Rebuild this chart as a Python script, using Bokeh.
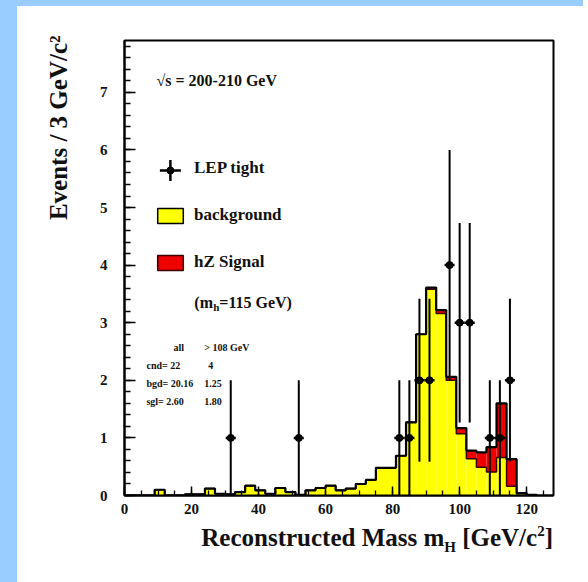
import math
from bokeh.plotting import figure
from bokeh.models import Range1d, SingleIntervalTicker, Label, Legend, LegendItem, Div, Title
from bokeh.layouts import row, column
from bokeh.embed import file_html
from bokeh.resources import INLINE

# ---------------- data ----------------
bin_edges = list(range(0, 126, 3))          # 3 GeV bins, 0 .. 123 GeV
background = [0.00, 0.00, 0.00, 0.10, 0.00, 0.00, 0.02, 0.02, 0.12, 0.03,
              0.02, 0.06, 0.17, 0.09, 0.03, 0.13, 0.06, 0.01, 0.09, 0.13,
              0.17, 0.09, 0.12, 0.20, 0.27, 0.48, 0.48, 0.69, 1.27, 2.80,
              3.58, 3.16, 2.00, 1.07, 0.64, 0.49, 0.41, 0.66, 0.16, 0.03,
              0.01]
signal = [0.00, 0.00, 0.00, 0.00, 0.00, 0.00, 0.00, 0.00, 0.00, 0.00,
          0.00, 0.00, 0.00, 0.00, 0.00, 0.00, 0.00, 0.00, 0.00, 0.00,
          0.00, 0.00, 0.00, 0.00, 0.00, 0.00, 0.00, 0.00, 0.00, 0.00,
          0.03, 0.06, 0.06, 0.10, 0.14, 0.26, 0.43, 0.94, 0.47, 0.01,
          0.00]
lep_mass = [31.7, 52.0, 82.0, 85.0, 88.0, 91.0, 97.0, 100.0, 103.0, 109.0, 112.0, 115.0]
lep_events = [1, 1, 1, 1, 2, 2, 4, 3, 3, 1, 1, 2]
lep_halfwidth = 1.5

table_rows = [("all", "> 108 GeV"), ("cnd= 22", "4"), ("bgd= 20.16", "1.25"), ("sgl=  2.60", "1.80")]

# ---------------- derived ----------------
bin_lo = bin_edges[:-1]
bin_hi = bin_edges[1:]
total = [b + s for b, s in zip(background, signal)]
err = [math.sqrt(n) for n in lep_events]

# ---------------- layout constants (page px) ----------------
X0, X1 = 0, 128
Y0, Y1 = 0, 7.9
FL, FR, FT, FB = 123, 553, 40, 495     # frame in page px
PAGE_L, PAGE_T = 17, 6                 # white panel origin
FIG_W, FIG_H = 566, 516


def dx(px):
    return X0 + (px - FL) / (FR - FL) * (X1 - X0)


def dy(py):
    return Y0 + (FB - py) / (FB - FT) * (Y1 - Y0)


FONT = "Liberation Serif"
INK = "#111111"
BLUE = "#99ccff"
NAN = float("nan")

p = figure(width=FIG_W, height=FIG_H, output_backend="svg", toolbar_location=None,
           x_range=Range1d(X0, X1), y_range=Range1d(Y0, Y1),
           min_border_left=FL - PAGE_L, min_border_right=PAGE_L + FIG_W - FR,
           min_border_top=FT - PAGE_T, min_border_bottom=PAGE_T + FIG_H - FB)
p.background_fill_color = "white"
p.border_fill_color = "white"
p.outline_line_color = "black"
p.outline_line_width = 2
p.xgrid.visible = False
p.ygrid.visible = False

# histograms
p.quad(left=bin_lo, right=bin_hi, bottom=0, top=background, fill_color="#ffff00", line_color=None)
p.quad(left=bin_lo, right=bin_hi, bottom=background, top=total, fill_color="#ee0000", line_color=None)
p.step(x=bin_edges, y=background + [0], mode="after", line_color="#3a0000", line_width=1.5)
p.step(x=bin_edges, y=total + [0], mode="after", line_color="black", line_width=2.2)

# data points
p.segment(x0=lep_mass, x1=lep_mass, y0=[n - e for n, e in zip(lep_events, err)],
          y1=[n + e for n, e in zip(lep_events, err)], line_color="black", line_width=2)
p.segment(x0=[m - lep_halfwidth for m in lep_mass], x1=[m + lep_halfwidth for m in lep_mass],
          y0=lep_events, y1=lep_events, line_color="black", line_width=2.5)
p.scatter(x=lep_mass, y=lep_events, marker="circle", size=7, color="black")

# axes
p.xaxis.ticker = SingleIntervalTicker(interval=20, num_minor_ticks=4)
p.yaxis.ticker = SingleIntervalTicker(interval=1, num_minor_ticks=5)
for ax in (p.xaxis[0], p.yaxis[0]):
    ax.axis_line_color = "black"
    ax.axis_line_width = 2
    ax.major_tick_line_color = "black"
    ax.minor_tick_line_color = "black"
    ax.major_tick_line_width = 1.5
    ax.minor_tick_line_width = 1.3
    ax.major_tick_out = 0
    ax.minor_tick_out = 0
    ax.major_label_text_font = FONT
    ax.major_label_text_font_style = "bold"
    ax.major_label_text_font_size = "15px"
    ax.major_label_text_color = INK
p.yaxis.major_tick_in = 11
p.yaxis.minor_tick_in = 6
p.xaxis.major_tick_in = 9
p.xaxis.minor_tick_in = 5
p.yaxis.major_label_standoff = 17
p.xaxis.major_label_standoff = 8

# y-axis title (aligned towards the top, ROOT style)
p.add_layout(Title(text="Events / 3 GeV/c\u00b2", align="right", offset=-5, vertical_align="bottom",
                   standoff=50, text_font=FONT, text_font_style="bold", text_font_size="25px",
                   text_color=INK), "left")

# legend (proxy renderers carry the swatch styles)
r_lep = p.scatter(x=[NAN], y=[NAN], marker="circle", size=1, alpha=0)
r_bg = p.quad(left=[NAN], right=[NAN], top=[NAN], bottom=[NAN], fill_color="#ffff00",
              line_color="black", line_width=1.5)
r_sg = p.quad(left=[NAN], right=[NAN], top=[NAN], bottom=[NAN], fill_color="#ee0000",
              line_color="#3a0000", line_width=1.5)
legend = Legend(items=[LegendItem(label="LEP tight", renderers=[r_lep]),
                       LegendItem(label="background", renderers=[r_bg]),
                       LegendItem(label="hZ Signal", renderers=[r_sg])],
                location=(30, 223), orientation="vertical", padding=0, margin=0, spacing=27,
                glyph_width=32, glyph_height=19, label_height=19, label_standoff=8,
                border_line_color=None, background_fill_alpha=0,
                label_text_font=FONT, label_text_font_style="bold", label_text_font_size="17px",
                label_text_color=INK)
p.add_layout(legend)
# large data-point symbol in the legend swatch
p.scatter(x=[dx(169)], y=[dy(170)], marker="cross", size=21, line_width=2.5, color="black")
p.scatter(x=[dx(169)], y=[dy(170)], marker="circle", size=7, color="black")


def lab(px, py, text, size, align="left", baseline="middle"):
    p.add_layout(Label(x=dx(px), y=dy(py), text=text, text_font=FONT, text_font_style="bold",
                       text_font_size=size, text_color=INK, text_align=align,
                       text_baseline=baseline))


lab(155, 80, "\u221As = 200-210 GeV", "16px")
lab(193, 302, "(m", "16px", baseline="alphabetic")
lab(212, 306, "h", "11px", baseline="alphabetic")
lab(218, 302, "=115 GeV)", "16px", baseline="alphabetic")

row_y = [347, 365, 383, 401]
for (c1, c2), yy in zip(table_rows, row_y):
    lab(172 if c1 == "all" else 145, yy, c1, "10px")
    lab(203 if c2 != "4" else 207, yy, c2, "10px")

# x-axis title with sub/superscript, right-aligned to the frame end
xtitle_html = (
    '<div style="width:%dpx; text-align:right; white-space:nowrap; font-family:\'Liberation Serif\';'
    ' font-weight:bold; font-size:25px; line-height:30px; padding-top:1px; color:%s;">'
    'Reconstructed Mass m<sub style="font-size:15px; line-height:0; vertical-align:-6px;">H</sub>'
    ' [GeV/c<sup style="font-size:15px; line-height:0; vertical-align:10px;">2</sup>]</div>'
) % (FR - PAGE_L, INK)
xtitle = Div(text=xtitle_html, width=FIG_W, height=582 - PAGE_T - FIG_H, margin=0,
             styles={"background-color": "white"})

left_strip = Div(width=PAGE_L, height=582, margin=0, styles={"background-color": BLUE})
top_strip = Div(width=FIG_W, height=PAGE_T, margin=0, styles={"background-color": BLUE})
layout = row(left_strip, column(top_strip, p, xtitle, spacing=0), spacing=0)

open("out.html", "w").write(file_html(layout, INLINE))
